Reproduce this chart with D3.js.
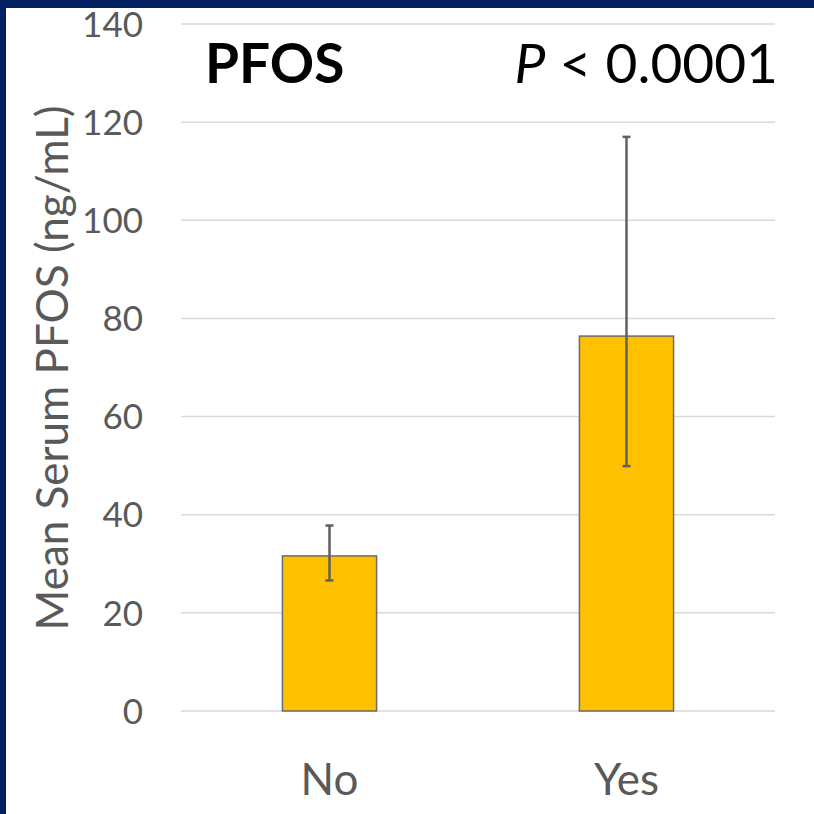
<!DOCTYPE html>
<html>
<head>
<meta charset="utf-8">
<script src="https://cdn.jsdelivr.net/npm/d3@7"></script>
<style>
  html, body { margin: 0; padding: 0; background: #fff; }
  svg { display: block; font-family: Lato, "Open Sans", sans-serif; }
</style>
</head>
<body>
<div id="chart"></div>
<script>
// values
const categories = ["No", "Yes"];
const means = [31.6, 76.4];
const errLow = [26.6, 49.9];
const errHigh = [37.8, 117.0];
const yTicks = [0, 20, 40, 60, 80, 100, 120, 140];
const panelTitle = "PFOS";
const pLabel = "0.0001";

const W = 814, H = 814;
const margin = {top: 24, right: 39, bottom: 103, left: 181};

const svg = d3.select("#chart").append("svg")
  .attr("width", W)
  .attr("height", H);

svg.append("rect").attr("width", W).attr("height", H).attr("fill", "#fff");

// navy frame on top and left
svg.append("rect").attr("x", 0).attr("y", 0).attr("width", W).attr("height", 8).attr("fill", "#002060");
svg.append("rect").attr("x", 0).attr("y", 0).attr("width", 6).attr("height", H).attr("fill", "#002060");

const x = d3.scaleBand()
  .domain(categories)
  .range([margin.left, W - margin.right])
  .paddingInner(0.683)
  .paddingOuter(0.3415);

const y = d3.scaleLinear()
  .domain([0, 140])
  .range([H - margin.bottom, margin.top]);

// gridlines
svg.append("g").selectAll("line")
  .data(yTicks)
  .join("line")
  .attr("x1", margin.left)
  .attr("x2", W - margin.right)
  .attr("y1", d => y(d))
  .attr("y2", d => y(d))
  .attr("stroke", "#d9d9d9")
  .attr("stroke-width", 1.5);

// y axis labels
const yAxisG = svg.append("g")
  .attr("transform", `translate(${margin.left - 38},0)`)
  .call(d3.axisLeft(y).tickValues(yTicks).tickSize(0).tickPadding(0));
yAxisG.select(".domain").remove();
yAxisG.selectAll("text")
  .attr("font-family", "Lato, 'Open Sans', sans-serif")
  .attr("font-size", 35)
  .attr("fill", "#595959")
  .attr("dy", "0.35em");

// bars
svg.append("g").selectAll("rect")
  .data(means)
  .join("rect")
  .attr("x", (d, i) => x(categories[i]))
  .attr("y", d => y(d))
  .attr("width", x.bandwidth())
  .attr("height", d => y(0) - y(d))
  .attr("fill", "#ffc000")
  .attr("stroke", "#6b6b6b")
  .attr("stroke-width", 1.5);

// error bars
const errG = svg.append("g")
  .attr("stroke", "#606060")
  .attr("stroke-width", 2.5);
categories.forEach((c, i) => {
  const cx = x(c) + x.bandwidth() / 2;
  errG.append("line")
    .attr("x1", cx).attr("x2", cx)
    .attr("y1", y(errLow[i])).attr("y2", y(errHigh[i]));
  [errLow[i], errHigh[i]].forEach(v => {
    errG.append("line")
      .attr("x1", cx - 4).attr("x2", cx + 4)
      .attr("y1", y(v)).attr("y2", y(v));
  });
});

// category labels
svg.append("g").selectAll("text")
  .data(categories)
  .join("text")
  .attr("x", d => x(d) + x.bandwidth() / 2)
  .attr("y", 795)
  .attr("text-anchor", "middle")
  .attr("font-size", 44)
  .attr("fill", "#595959")
  .text(d => d);

// y axis title
svg.append("text")
  .attr("transform", "translate(68,368) rotate(-90)")
  .attr("text-anchor", "middle")
  .attr("font-size", 44)
  .attr("fill", "#595959")
  .text("Mean Serum PFOS (ng/mL)");

// panel title and p value
svg.append("text")
  .attr("x", 205)
  .attr("y", 83)
  .attr("font-size", 55)
  .attr("font-weight", "bold")
  .attr("fill", "#000")
  .text(panelTitle);

const pText = svg.append("text")
  .attr("x", 778)
  .attr("y", 83)
  .attr("text-anchor", "end")
  .attr("font-size", 55)
  .attr("fill", "#000");
pText.append("tspan").attr("font-style", "italic").text("P");
pText.append("tspan").text(" < " + pLabel);
</script>
</body>
</html>
